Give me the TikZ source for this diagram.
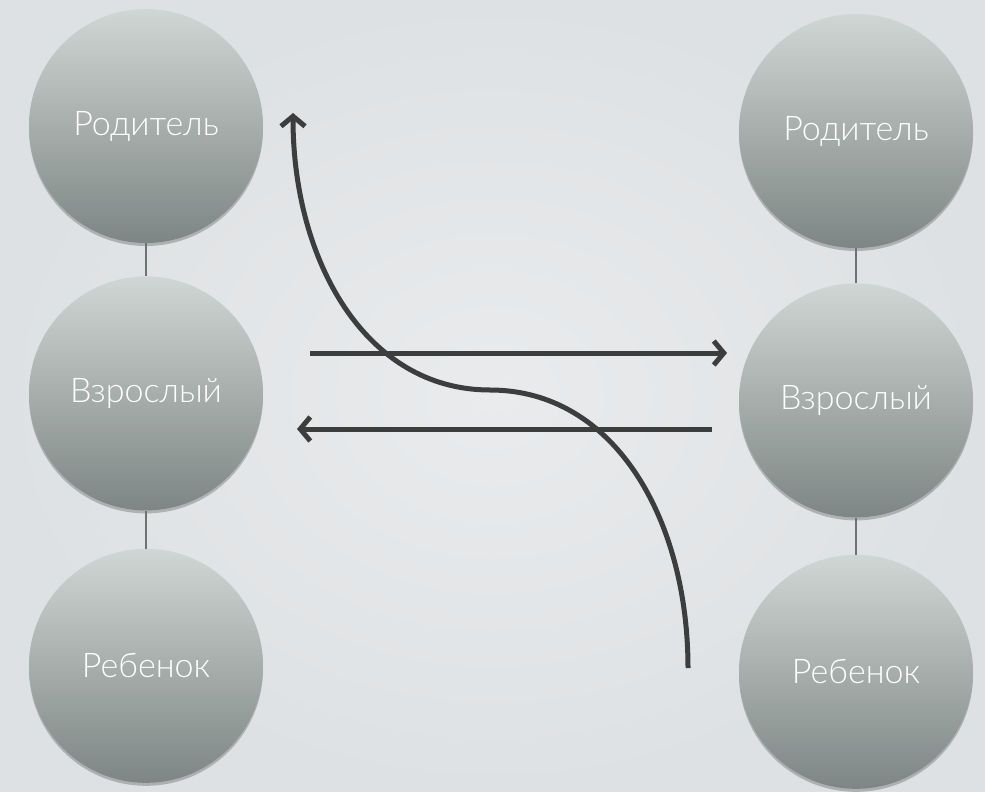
\documentclass[tikz,border=0pt]{standalone}
\usepackage{fontspec}
\IfFontExistsTF{Lato-Light.ttf}{\setmainfont{Lato-Light.ttf}}{%
  \IfFontExistsTF{OpenSans-Light.ttf}{\setmainfont{OpenSans-Light.ttf}}{\setmainfont{Lato}}}
\usepackage{tikz}
\usetikzlibrary{positioning, arrows.meta, shadows}

\definecolor{bgpaper}{HTML}{E9EBED}
\definecolor{bgedge}{HTML}{DEE1E3}
\definecolor{balltop}{HTML}{D0D6D4}
\definecolor{ballbot}{HTML}{7D8684}
\definecolor{linkgray}{HTML}{6E7270}
\definecolor{arrowdark}{HTML}{3C3D3D}

\tikzset{
  role/.style={circle, minimum size=234pt, inner sep=0pt, top color=balltop, bottom color=ballbot,
    text=white, font=\fontsize{34}{40}\selectfont,
    drop shadow={shadow xshift=0pt, shadow yshift=-3pt, opacity=0.22, fill=black}},
  link/.style={draw=linkgray, line width=1.5pt},
  flow/.style={draw=arrowdark, line width=5pt, -{Straight Barb[length=10pt, width=24pt]}},
}

\begin{document}
\begin{tikzpicture}[x=1pt, y=-1pt]
        \useasboundingbox (0,0) rectangle (985,792);
        \fill [inner color=bgpaper, outer color=bgedge] (0,0) rectangle (985,792);
        % left column
        \node [role] (pL) at (146,126) {Родитель};
        \node [role, below=33pt of pL] (aL) {Взрослый};
        \node [role, below=38pt of aL] (cL) {Ребенок};
        % right column
        \node [role] (pR) at (856,131) {Родитель};
        \node [role, below=35pt of pR] (aR) {Взрослый};
        \node [role, below=37pt of aR] (cR) {Ребенок};
        \draw [link] (pL) -- (aL);
        \draw [link] (aL) -- (cL);
        \draw [link] (pR) -- (aR);
        \draw [link] (aR) -- (cR);
        % transactions
        \coordinate (fwS) at (310,353);
        \coordinate (fwE) at (727,353);
        \coordinate (bkS) at (712,429);
        \coordinate (bkE) at (297,429);
        \coordinate (swS) at (688,668);
        \coordinate (swM) at (490,390);
        \coordinate (swE) at (293,113);
        \draw [flow] (fwS) -- (fwE);
        \draw [flow] (bkS) -- (bkE);
        \draw [flow] (swS) .. controls (688,520) and (615,390) .. (swM)
            .. controls (365,390) and (293,260) .. (swE);
    \end{tikzpicture}
\end{document}
